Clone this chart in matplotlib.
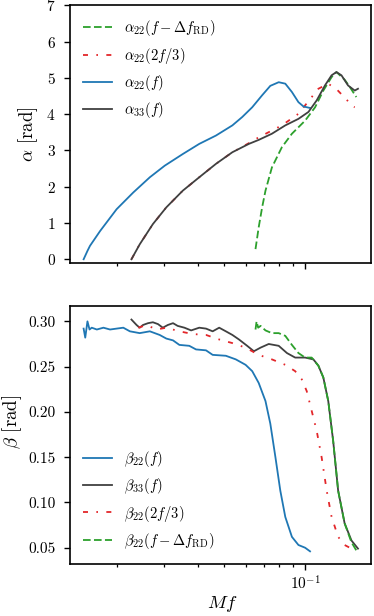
import matplotlib
matplotlib.use("Agg")
import matplotlib.pyplot as plt
from matplotlib.ticker import NullFormatter

plt.rcParams['font.family'] = 'serif'
plt.rcParams['font.serif'] = ['cmr10']
plt.rcParams['mathtext.fontset'] = 'cm'
plt.rcParams['axes.formatter.use_mathtext'] = True
plt.rcParams['axes.unicode_minus'] = False
plt.rcParams['lines.scale_dashes'] = False
plt.rcParams['axes.linewidth'] = 1.2

# alpha panel
f_a22 = [0.01506, 0.01556, 0.0159, 0.01734, 0.01996, 0.0230, 0.0265, 0.0301, 0.0351, 0.0404,
         0.0466, 0.0536, 0.0583, 0.0635, 0.0691, 0.0741, 0.0796, 0.0842, 0.0891, 0.0942, 0.0984, 0.1040]
a22 = [0.0, 0.23, 0.37, 0.78, 1.38, 1.84, 2.26, 2.58, 2.90, 3.18,
       3.41, 3.69, 3.92, 4.19, 4.52, 4.78, 4.88, 4.84, 4.61, 4.33, 4.21, 4.17]

f_a33 = [0.02265, 0.0243, 0.0272, 0.0305, 0.0351, 0.0404, 0.0466, 0.0536, 0.0617, 0.0671, 0.0751,
         0.0842, 0.0942, 0.1026, 0.1101, 0.1181, 0.1250, 0.1303, 0.1360, 0.1439, 0.1523, 0.1566]
a33 = [0.0, 0.41, 0.97, 1.43, 1.89, 2.26, 2.63, 2.95, 3.18, 3.29, 3.46,
       3.69, 3.87, 4.06, 4.38, 4.79, 5.07, 5.16, 5.07, 4.79, 4.65, 4.70]

f_a22_23 = [0.02265, 0.0243, 0.0272, 0.0305, 0.0351, 0.0404, 0.0466, 0.0536, 0.0617, 0.0671, 0.0818,
            0.0942, 0.1055, 0.1117, 0.1215, 0.1315, 0.1400, 0.1500, 0.1523]
a22_23 = [0.0, 0.41, 0.97, 1.43, 1.89, 2.26, 2.63, 2.95, 3.20, 3.36, 3.69,
          4.01, 4.47, 4.70, 4.84, 4.66, 4.45, 4.21, 4.19]

f_a22_rd = [0.0653, 0.0671, 0.0691, 0.0711, 0.0751, 0.0818, 0.0891, 0.0997, 0.1086, 0.1165,
            0.1250, 0.1303, 0.1397, 0.1460, 0.1544]
a22_rd = [0.28, 0.88, 1.43, 1.89, 2.53, 3.09, 3.46, 3.82, 4.19, 4.65,
          5.02, 5.16, 4.95, 4.75, 4.47]

# beta panel
f_b22 = [0.01506, 0.01527, 0.01556, 0.01584, 0.01614, 0.01686, 0.01783, 0.01887, 0.01996, 0.02113,
         0.02235, 0.0243, 0.0265, 0.02882, 0.0305, 0.0323, 0.0341, 0.0371, 0.0393, 0.0428, 0.0453,
         0.0507, 0.0552, 0.0600, 0.0635, 0.0671, 0.0711, 0.0741, 0.0774, 0.0807, 0.0842, 0.0891,
         0.0942, 0.0997, 0.1040]
b22 = [0.292, 0.282, 0.300, 0.291, 0.293, 0.291, 0.293, 0.291, 0.292, 0.293,
       0.289, 0.287, 0.289, 0.285, 0.281, 0.279, 0.274, 0.273, 0.269, 0.268, 0.263,
       0.262, 0.258, 0.252, 0.245, 0.232, 0.212, 0.187, 0.150, 0.113, 0.084, 0.062,
       0.053, 0.050, 0.046]

f_b33 = [0.02265, 0.02366, 0.0243, 0.0250, 0.0261, 0.0272, 0.0284, 0.0296, 0.0309, 0.0323,
         0.0336, 0.0356, 0.0377, 0.0404, 0.0428, 0.0453, 0.0479, 0.0507, 0.0536, 0.0567,
         0.0608, 0.0644, 0.0682, 0.0731, 0.0796, 0.0854, 0.0916, 0.0997, 0.1070, 0.1117,
         0.1165, 0.1215, 0.1267, 0.1322, 0.1397, 0.1481, 0.1566]
b33 = [0.302, 0.296, 0.293, 0.296, 0.298, 0.299, 0.297, 0.293, 0.296, 0.298,
       0.295, 0.293, 0.290, 0.293, 0.292, 0.289, 0.293, 0.289, 0.285, 0.280,
       0.273, 0.267, 0.271, 0.275, 0.273, 0.265, 0.260, 0.260, 0.258, 0.251,
       0.238, 0.212, 0.168, 0.113, 0.077, 0.058, 0.049]

f_b22_23 = [0.0240, 0.0258, 0.0280, 0.0305, 0.0341, 0.0382, 0.0428, 0.0479, 0.0536, 0.0600,
            0.0671, 0.0751, 0.0842, 0.0916, 0.0969, 0.1011, 0.1055, 0.1101, 0.1148, 0.1199,
            0.1250, 0.1322, 0.1397, 0.1481, 0.1544]
b22_23 = [0.293, 0.296, 0.291, 0.293, 0.289, 0.286, 0.285, 0.280, 0.276, 0.271,
          0.263, 0.258, 0.252, 0.245, 0.236, 0.223, 0.201, 0.179, 0.150, 0.113,
          0.084, 0.062, 0.053, 0.049, 0.048]

f_b22_rd = [0.0653, 0.0659, 0.0668, 0.0682, 0.0711, 0.0751, 0.0796, 0.0842, 0.0891, 0.0942,
            0.0997, 0.1055, 0.1117, 0.1165, 0.1215, 0.1267, 0.1322, 0.1397, 0.1481, 0.1544]
b22_rd = [0.291, 0.300, 0.293, 0.295, 0.290, 0.287, 0.287, 0.284, 0.274, 0.265,
          0.260, 0.260, 0.251, 0.238, 0.212, 0.168, 0.113, 0.077, 0.056, 0.047]

blue = '#1f77b4'
gray = '#404040'
red = '#e3262a'
green = '#2ca02c'
lw = 1.3
dash = (5.5, 2.4)
dashdot = (3.6, 6.0, 1.2, 6.0)

fig, (ax1, ax2) = plt.subplots(2, 1, sharex=True, figsize=(3.74, 6.16), dpi=100)
fig.subplots_adjust(left=0.187, right=0.992, top=0.9914, bottom=0.0844, hspace=0.169)

ax1.plot(f_a22_rd, a22_rd, color=green, lw=lw, dashes=dash, label=r'$\alpha_{22}(f-\Delta f_{\rm RD})$')
ax1.plot(f_a22_23, a22_23, color=red, lw=lw, dashes=dashdot, label=r'$\alpha_{22}(2f/3)$')
ax1.plot(f_a22, a22, color=blue, lw=lw, label=r'$\alpha_{22}(f)$')
ax1.plot(f_a33, a33, color=gray, lw=lw, label=r'$\alpha_{33}(f)$')
ax1.set_ylim(-0.1, 7)
ax1.set_yticks(range(0, 8))
ax1.set_ylabel(r'$\alpha$ [rad]', fontsize=13.5)
ax1.yaxis.set_label_coords(-0.10, 0.5)
ax1.legend(loc='upper left', frameon=False, fontsize=10.5)

ax2.plot(f_b22, b22, color=blue, lw=lw, label=r'$\beta_{22}(f)$')
ax2.plot(f_b33, b33, color=gray, lw=lw, label=r'$\beta_{33}(f)$')
ax2.plot(f_b22_23, b22_23, color=red, lw=lw, dashes=dashdot, label=r'$\beta_{22}(2f/3)$')
ax2.plot(f_b22_rd, b22_rd, color=green, lw=lw, dashes=dash, label=r'$\beta_{22}(f-\Delta f_{\rm RD})$')
ax2.set_ylim(0.032, 0.3165)
ax2.set_yticks([0.05, 0.10, 0.15, 0.20, 0.25, 0.30])
ax2.set_yticklabels(['0.05', '0.10', '0.15', '0.20', '0.25', '0.30'])
ax2.set_ylabel(r'$\beta$ [rad]', fontsize=13.5)
ax2.yaxis.set_label_coords(-0.153, 0.55)
ax2.legend(loc='lower left', frameon=False, fontsize=10.5)

ax2.set_xscale('log')
ax2.set_xlim(0.0134, 0.175)
ax2.xaxis.set_minor_formatter(NullFormatter())
ax2.set_xlabel(r'$Mf$', fontsize=13.5)
ax2.xaxis.set_label_coords(0.505, -0.115)

for ax in (ax1, ax2):
    ax.tick_params(which='major', labelsize=11, length=4.3, width=1.0)
    ax.tick_params(which='minor', length=2.4, width=0.9)
    ax.tick_params(axis='y', pad=6)
    ax.tick_params(axis='x', which='both', pad=3)

fig.savefig('out.png', dpi=100)
